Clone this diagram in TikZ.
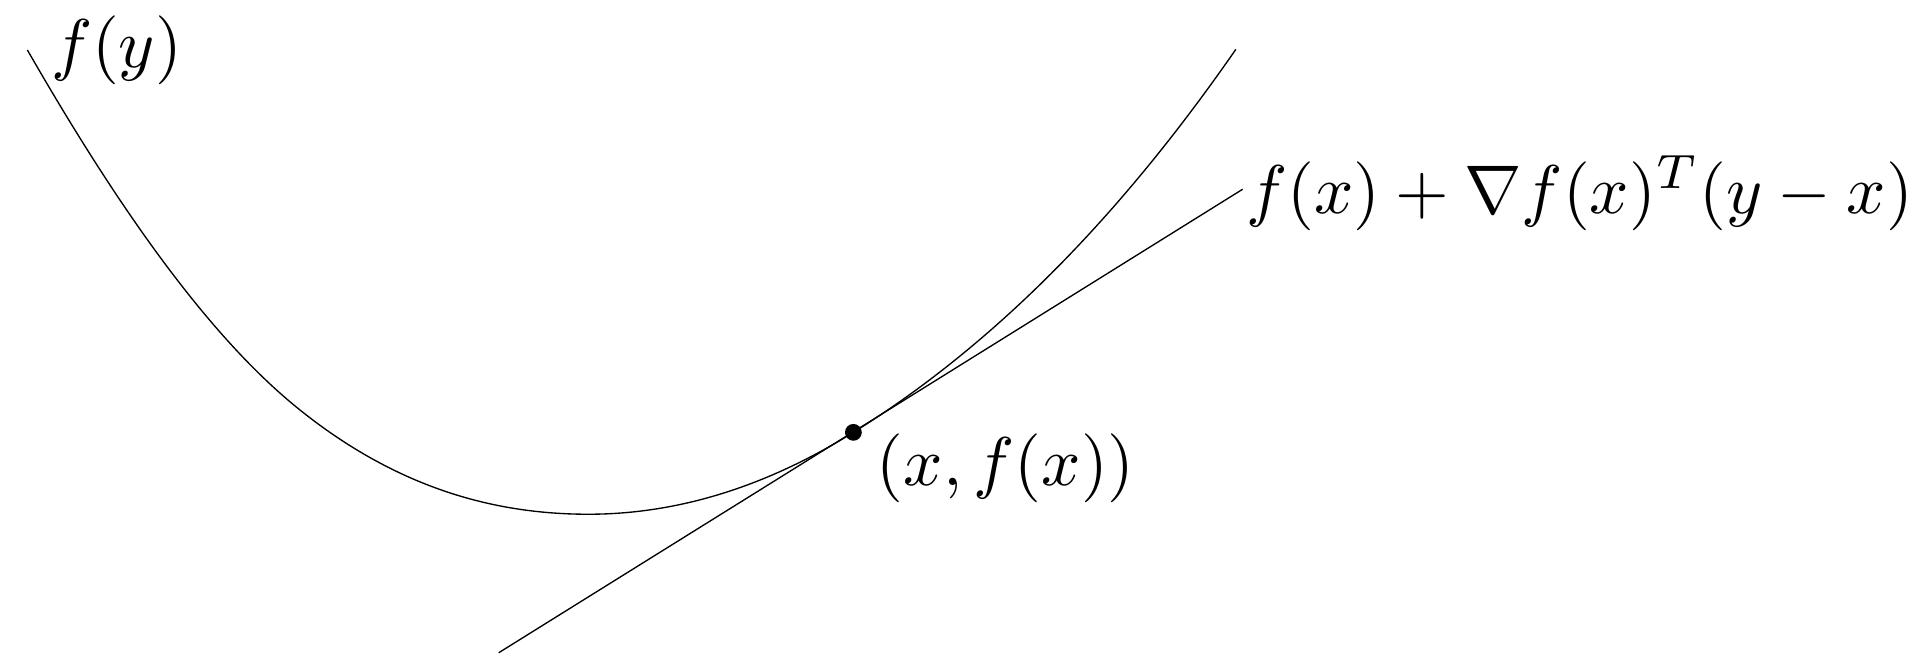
\documentclass[tikz,border=0pt]{standalone}
\usepackage{amsmath}
\usepackage{amssymb}
\usepackage{tikz}

\begin{document}
\begin{tikzpicture}[very thin, every node/.style={scale=1.025}]
    \useasboundingbox (0, 0) rectangle (10, 3.497);

    \coordinate (ystart) at (0.143, 3.236);
    \coordinate (ymin) at (3.075, 0.809);
    \coordinate (xpt) at (4.461, 1.237);
    \coordinate (yend) at (6.46, 3.239);
    \coordinate (tanlow) at (2.607, 0.085);
    \coordinate (tanhigh) at (6.496, 2.508);

    \draw (ystart) .. controls (0.618, 2.409) and (1.093, 1.734) .. (1.568, 1.354) .. controls (2.07, 0.952) and (2.573, 0.809) .. (ymin) .. controls (3.541, 0.809) and (4.003, 0.952) .. (xpt) .. controls (5.127, 1.652) and (5.794, 2.278) .. (yend);

    \draw (tanlow) -- (tanhigh);

    \fill (xpt) circle (1.25pt);

    \node [right] (fylabel) at (ystart) {$f(y)$};
    \node [right] (tanlabel) at (6.39, 2.49) {$f(x) + \nabla f(x)^T (y - x)$};
    \node [right] (xptlabel) at (4.46, 1.05) {$(x, f(x))$};
\end{tikzpicture}
\end{document}
